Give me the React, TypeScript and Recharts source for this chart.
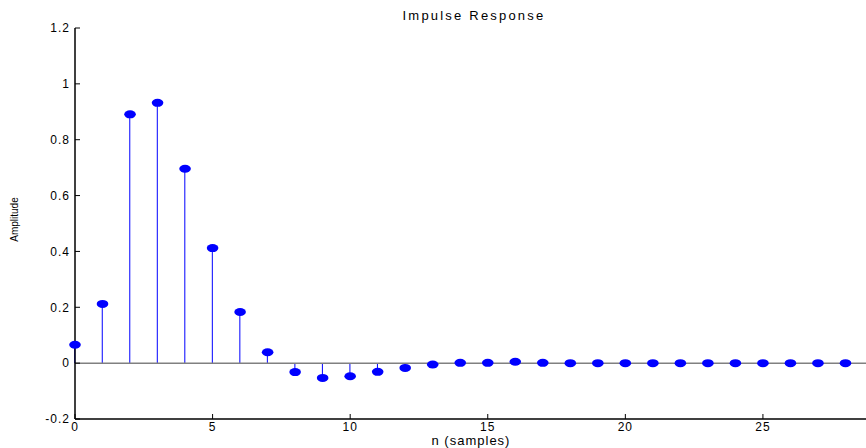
import { ComposedChart, Bar, Scatter, XAxis, YAxis, ReferenceLine } from "recharts";

// impulse response samples, n = 0..28
const samples = [
  0, 1, 2, 3, 4, 5, 6, 7, 8, 9, 10, 11, 12, 13, 14, 15, 16, 17, 18, 19, 20, 21, 22, 23, 24, 25, 26, 27, 28,
];
const amplitude = [
  0.066, 0.212, 0.891, 0.932, 0.696, 0.412, 0.183, 0.039, -0.032, -0.053, -0.047, -0.031, -0.017, -0.005,
  0.001, 0.001, 0.005, 0.001, 0.0, 0.0, 0.0, 0.0, 0.0, 0.0, 0.0, 0.0, 0.0, 0.0, 0.0,
];
const xTicks = [0, 5, 10, 15, 20, 25];
const yTicks = [-0.2, 0, 0.2, 0.4, 0.6, 0.8, 1, 1.2];

const FONT = '"Liberation Sans", Arial, sans-serif';

const data = samples.map((n, i) => ({ n, y: amplitude[i] }));

// eslint-disable-next-line @typescript-eslint/no-explicit-any
const Ellipse = (props: any) => {
  const { cx, cy } = props;
  if (cx == null || cy == null) return null;
  return <ellipse cx={cx} cy={cy} rx={5.8} ry={4} fill="#0000ff" />;
};

const tick = { fill: "#000", fontSize: 12, fontFamily: FONT, letterSpacing: 1 };

export default function App() {
  return (
    <div
      style={{
        position: "fixed",
        left: 0,
        top: 0,
        width: 866,
        height: 448,
        overflow: "hidden",
        background: "#fff",
      }}
    >
      <div
        style={{
          position: "absolute",
          left: 374,
          width: 200,
          top: 9,
          lineHeight: 1,
          textAlign: "center",
          fontFamily: FONT,
          fontSize: 13,
          letterSpacing: 2.2,
          color: "#000",
        }}
      >
        Impulse Response
      </div>
      <div
        style={{
          position: "absolute",
          left: 371,
          width: 200,
          top: 434,
          lineHeight: 1,
          textAlign: "center",
          fontFamily: FONT,
          fontSize: 13,
          letterSpacing: 1,
          color: "#000",
        }}
      >
        n (samples)
      </div>
      <ComposedChart
        width={880}
        height={448}
        data={data}
        margin={{ top: 28, right: 7, bottom: 0, left: 0 }}
      >
        <XAxis
          xAxisId="bottom"
          dataKey="n"
          type="number"
          domain={[0, 29]}
          ticks={xTicks}
          tick={tick}
          tickSize={-5}
          tickMargin={8}
          height={29}
          axisLine={{ stroke: "#000", strokeWidth: 1.5 }}
          tickLine={{ stroke: "#000" }}
        />
        <XAxis
          xAxisId="top"
          orientation="top"
          dataKey="n"
          type="number"
          domain={[0, 29]}
          ticks={xTicks}
          tickFormatter={() => ""}
          tickSize={-5}
          height={0}
          axisLine={{ stroke: "#000", strokeWidth: 1.5 }}
          tickLine={{ stroke: "#000" }}
        />
        <YAxis
          type="number"
          domain={[-0.2, 1.2]}
          ticks={yTicks}
          tick={tick}
          tickSize={-5}
          tickMargin={10}
          width={75}
          axisLine={{ stroke: "#000", strokeWidth: 1.5 }}
          tickLine={{ stroke: "#000" }}
          label={{
            value: "Amplitude",
            angle: -90,
            position: "insideLeft",
            offset: 14,
            dy: -4,
            style: { fill: "#000", fontSize: 10, fontFamily: FONT, textAnchor: "middle" },
          }}
        />
        <ReferenceLine xAxisId="bottom" y={0} stroke="#808080" strokeWidth={1.5} />
        <Bar xAxisId="bottom" dataKey="y" barSize={1} fill="#0000ff" isAnimationActive={false} />
        <Scatter xAxisId="bottom" dataKey="y" shape={<Ellipse />} isAnimationActive={false} />
      </ComposedChart>
    </div>
  );
}
